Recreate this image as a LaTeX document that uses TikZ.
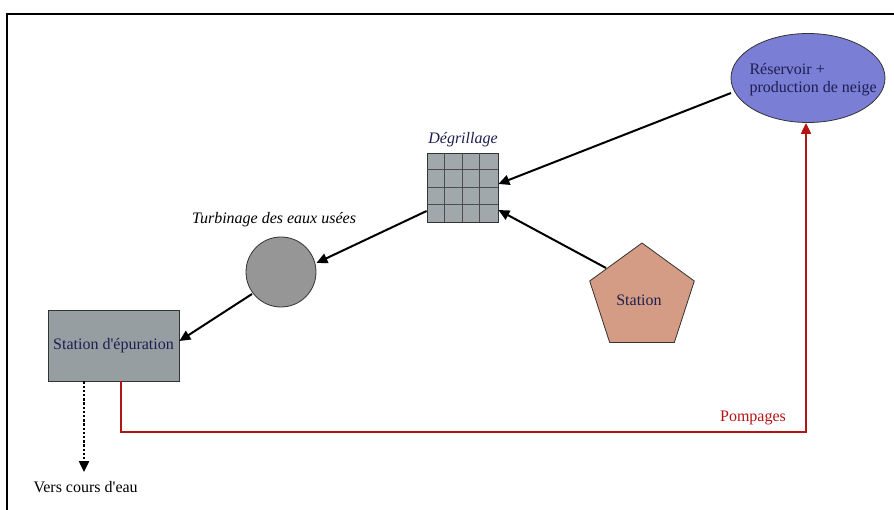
\documentclass[tikz,border=0pt]{standalone}
\usepackage{fontspec}
\setmainfont{Liberation Serif}
\usetikzlibrary{arrows.meta,shapes.geometric,calc}
\definecolor{resblue}{RGB}{122,126,212}
\definecolor{navy}{RGB}{30,30,80}
\definecolor{gridgray}{RGB}{160,168,172}
\definecolor{circgray}{RGB}{150,150,150}
\definecolor{boxgray}{RGB}{150,158,162}
\definecolor{salmon}{RGB}{212,156,132}
\definecolor{pumpred}{RGB}{180,20,20}
\newcommand{\apos}{\textquotesingle}
\tikzset{
  flow/.style={line width=2pt,-{Triangle[length=11pt,width=10pt]}},
  lbl/.style={font=\fontsize{16}{18}\selectfont},
  ilbl/.style={font=\fontsize{16}{18}\selectfont\itshape},
}
\begin{document}
\begin{tikzpicture}[x=1pt,y=-1pt]
\useasboundingbox (0,0) rectangle (894,510);
\fill[white] (0,0) rectangle (894,510);
% frame
\draw[line width=2pt] (7,510) -- (7,14) -- (894,14);
% nodes
\node[ellipse,draw=black!80,fill=resblue,line width=0.8pt,minimum width=154pt,minimum height=89pt] (res) at (808,78) {};
\node[align=left,text=navy,lbl,anchor=west] (rest) at (746,80) {Réservoir +\\production de neige};
\node[draw=black!80,fill=gridgray,line width=0.8pt,minimum width=71pt,minimum height=69pt,inner sep=0pt] (grid) at (462.5,187.5) {};
\foreach \i in {1,2,3}{
  \draw[line width=1pt,black!70] ($(grid.south west)+(\i*71/4,0)$) -- ($(grid.north west)+(\i*71/4,0)$);
  \draw[line width=1pt,black!70] ($(grid.north west)+(0,\i*69/4)$) -- ($(grid.north east)+(0,\i*69/4)$);
}
\node[ilbl,text=navy] (deg) at (463,140) {Dégrillage};
\node[regular polygon,regular polygon sides=5,draw=black!80,fill=salmon,line width=0.8pt,
  minimum size=110pt,inner sep=0pt] (sta) at (642,298) {};
\node[lbl,text=navy] (stat) at (639,300) {Station};
\node[circle,draw=black!80,fill=circgray,line width=0.8pt,minimum size=70pt,inner sep=0pt] (turb) at (281,272) {};
\node[ilbl] (turbl) at (274,220) {Turbinage des eaux usées};
\node[draw=black!80,fill=boxgray,line width=0.8pt,minimum width=131pt,minimum height=71pt,
  inner sep=0pt,lbl,text=navy] (epu) at (113.5,345.5) {Station d\apos épuration};
\node[lbl,anchor=west] (vers) at (30,487) {Vers cours d\apos eau};
\node[lbl,text=pumpred] (pomp) at (753,418) {Pompages};
\coordinate (vend) at (84,472);
% connectors
\draw[flow] (731,93) -- (grid.east |- 0,184);
\draw[flow] (606,268) -- (grid.east |- 0,210);
\draw[flow] (grid.west |- 0,211) -- (turb.east |- 0,263);
\draw[flow] (252,294) -- (epu.east |- 0,341);
\draw[line width=2.4pt,dash pattern=on 2.4pt off 1.8pt,-{Triangle[length=11pt,width=10pt]}] (epu.south -| vend) -- (vend);
\draw[line width=2pt,pumpred,-{Triangle[length=11pt,width=10pt]}] (epu.south -| 121,0) -- (121,432) -- (806,432) -- (res.south -| 806,0);
\end{tikzpicture}
\end{document}
